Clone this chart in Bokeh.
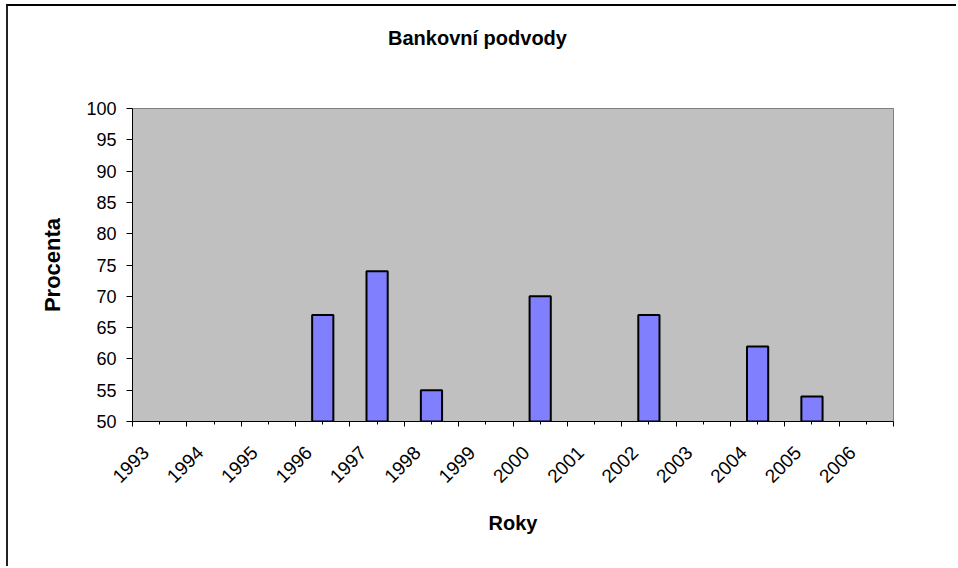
import math
from bokeh.plotting import figure
from bokeh.models import Range1d, LinearAxis, FixedTicker, ColumnDataSource, BasicTickFormatter
from bokeh.embed import file_html
from bokeh.resources import INLINE

# ---- data ----
years = [1993, 1994, 1995, 1996, 1997, 1998, 1999, 2000, 2001, 2002, 2003, 2004, 2005, 2006]
values = [None, None, None, 67, 74, 55, None, 70, None, 67, None, 62, 54, None]
y_ticks = [50, 55, 60, 65, 70, 75, 80, 85, 90, 95, 100]

title_text = "Bankovní podvody"
x_title = "Roky"
y_title = "Procenta"

bar_years = [y for y, v in zip(years, values) if v is not None]
bar_vals = [v for v in values if v is not None]
src = ColumnDataSource(dict(x=bar_years, top=bar_vals))

FONT = "Liberation Sans"
OX, OY = 8, 6          # canvas origin on the page (after the CSS border)
W, H = 950, 562
FL, FR, FT, FB = 132, 893, 108, 421   # frame edges on the page
ML, MR, MT, MB = FL - OX, W - (FR - OX), FT - OY, H - (FB - OY)
frame_w = W - ML - MR
n = len(years)
shift_px = 14.0
d = shift_px * n / frame_w
title_cx = 477

p = figure(width=W, height=H, output_backend="svg", toolbar_location=None,
           x_range=Range1d(years[0] - 0.5, years[-1] + 0.5),
           y_range=Range1d(y_ticks[0], y_ticks[-1]),
           x_axis_location=None,
           min_border_left=ML, min_border_right=MR, min_border_top=MT, min_border_bottom=MB,
           background_fill_color="#C0C0C0", border_fill_color="white")
p.title = None
p.outline_line_color = "#808080"
p.outline_line_width = 1
p.grid.visible = False

# chart-area border (left and top edges)
p.styles = {"margin-left": "6px", "margin-top": "4px",
            "border-left": "2px solid #222222", "border-top": "2px solid #000000"}

# chart title, placed above the frame
p.extra_x_ranges = {"lab": Range1d(years[0] - 0.5 + d, years[-1] + 0.5 + d),
                    "ttl": Range1d(FL - title_cx, FR - title_cx)}
ta = LinearAxis(x_range_name="ttl", ticker=FixedTicker(ticks=[0], minor_ticks=[]),
                major_label_overrides={0: title_text},
                major_tick_out=0, major_tick_in=0, minor_tick_out=0, minor_tick_in=0,
                axis_line_color=None, major_tick_line_color=None, minor_tick_line_color=None,
                major_label_standoff=60,
                major_label_text_font=FONT, major_label_text_font_size="20px",
                major_label_text_font_style="bold", major_label_text_color="black")
p.add_layout(ta, "above")

# y axis
ya = p.yaxis[0]
ya.ticker = FixedTicker(ticks=y_ticks)
ya.major_tick_out = 6
ya.major_tick_in = 0
ya.minor_tick_out = 0
ya.minor_tick_in = 0
ya.axis_line_color = "black"
ya.major_tick_line_color = "black"
ya.major_label_text_font = FONT
ya.major_label_text_font_size = "18px"
ya.major_label_text_color = "black"
ya.major_label_standoff = 10
ya.axis_label = y_title
ya.axis_label_text_font = FONT
ya.axis_label_text_font_size = "22px"
ya.axis_label_text_font_style = "bold"
ya.axis_label_text_color = "black"
ya.axis_label_standoff = 18

# x axis with tick marks (boundaries major, centers minor)
xa = LinearAxis(ticker=FixedTicker(ticks=[y - 0.5 for y in years] + [years[-1] + 0.5],
                                   minor_ticks=years),
                major_label_text_font_size="1px", major_label_text_color=None,
                major_label_text_alpha=0, major_label_standoff=0,
                major_tick_out=5, major_tick_in=0, minor_tick_out=3, minor_tick_in=0,
                axis_line_color="black", major_tick_line_color="black",
                minor_tick_line_color="black")
p.add_layout(xa, "below")

# x axis with year labels
xl = LinearAxis(x_range_name="lab", ticker=FixedTicker(ticks=years, minor_ticks=[]),
                formatter=BasicTickFormatter(use_scientific=False),
                major_label_orientation=math.pi / 4,
                major_tick_out=0, major_tick_in=0, minor_tick_out=0, minor_tick_in=0,
                axis_line_color=None, major_tick_line_color=None, minor_tick_line_color=None,
                major_label_standoff=23,
                major_label_text_font=FONT, major_label_text_font_size="19px",
                major_label_text_color="black",
                axis_label=x_title, axis_label_text_font=FONT, axis_label_text_font_size="20px",
                axis_label_text_font_style="bold", axis_label_text_color="black",
                axis_label_standoff=20)
p.add_layout(xl, "below")

p.vbar(x="x", top="top", bottom=y_ticks[0], width=0.39, source=src,
       fill_color="#8080FF", line_color="black", line_width=2)

open("out.html", "w").write(file_html(p, INLINE))
